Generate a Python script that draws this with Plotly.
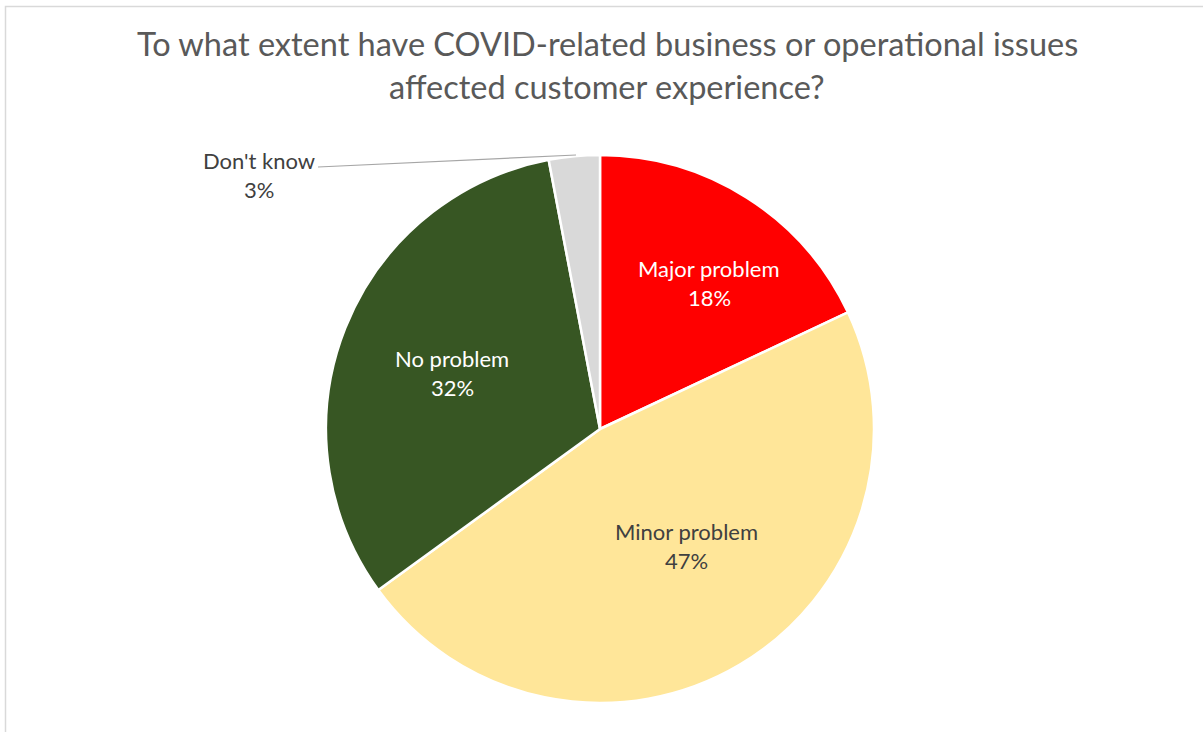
import plotly.graph_objects as go

# Survey responses (share of respondents, %)
categories = ["Major problem", "Minor problem", "No problem", "Don't know"]
shares = [18, 47, 32, 3]
slice_colors = ["#FF0000", "#FFE699", "#375623", "#D9D9D9"]
label_colors = ["#FFFFFF", "#404040", "#FFFFFF", "#404040"]
title_lines = [
    "To what extent have COVID-related business or operational issues",
    "affected customer experience?",
]

W, H = 1203, 732
FONT = "Lato"


def px(x):
    return x / W


def py(y):
    return 1 - y / H


fig = go.Figure(
    go.Pie(
        labels=categories,
        values=shares,
        sort=False,
        direction="clockwise",
        rotation=0,
        marker=dict(colors=slice_colors, line=dict(color="#FFFFFF", width=2.5)),
        textinfo="none",
        hoverinfo="label+percent",
        showlegend=False,
        domain=dict(x=[px(326), px(874)], y=[py(703), py(155)]),
    )
)

# label anchor points (pixel centres of the two text lines)
label_pos = {
    "Major problem": (709, 268),
    "Minor problem": (686, 531),
    "No problem": (452, 358),
    "Don't know": (259, 160),
}
line_gap = 29

annotations = []
for name, val, col in zip(categories, shares, label_colors):
    x, y = label_pos[name]
    annotations.append(dict(
        x=px(x), y=py(y), xref="paper", yref="paper", text=name,
        showarrow=False, xanchor="center", yanchor="middle",
        font=dict(family=FONT, size=22, color=col),
    ))
    annotations.append(dict(
        x=px(x), y=py(y + line_gap), xref="paper", yref="paper", text=f"{val}%",
        showarrow=False, xanchor="center", yanchor="middle",
        font=dict(family=FONT, size=22, color=col),
    ))

for i, line in enumerate(title_lines):
    annotations.append(dict(
        x=px(607), y=py(44 + 42 * i), xref="paper", yref="paper", text=line,
        showarrow=False, xanchor="center", yanchor="middle",
        font=dict(family=FONT, size=32.5, color="#595959"),
    ))

shapes = [
    # chart area frame
    dict(type="rect", xref="paper", yref="paper",
         x0=px(5.5), x1=1.2, y0=-0.2, y1=py(6.5),
         line=dict(color="#D9D9D9", width=1.5), fillcolor="rgba(0,0,0,0)"),
    # leader line for the small slice
    dict(type="line", xref="paper", yref="paper",
         x0=px(318), y0=py(167), x1=px(576), y1=py(155),
         line=dict(color="#A6A6A6", width=1.2)),
]

fig.update_layout(
    width=W, height=H,
    margin=dict(l=0, r=0, t=0, b=0),
    paper_bgcolor="#FFFFFF",
    plot_bgcolor="#FFFFFF",
    annotations=annotations,
    shapes=shapes,
)

fig.write_html("out.html")
